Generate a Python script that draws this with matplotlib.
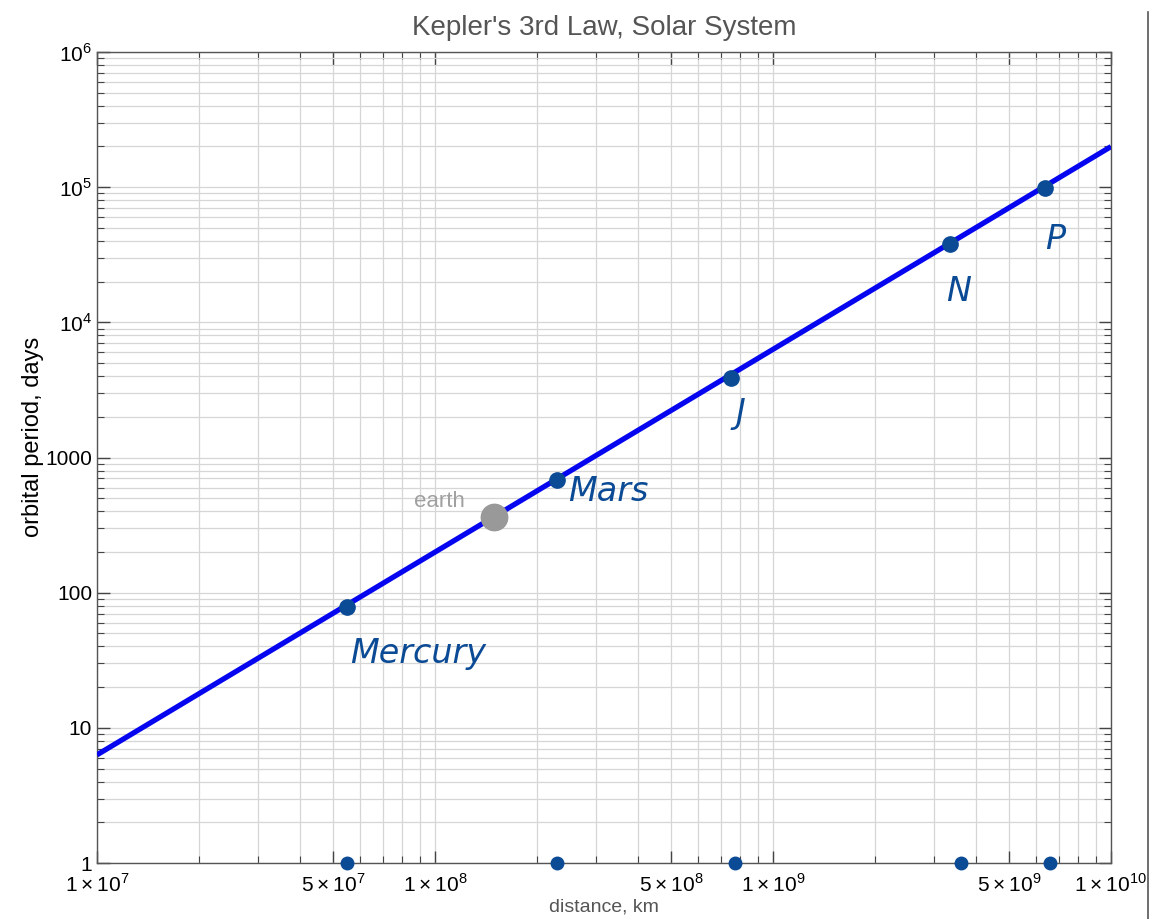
import numpy as np
import matplotlib.pyplot as plt
from matplotlib.lines import Line2D
from matplotlib.ticker import LogLocator, FixedLocator, FixedFormatter, NullFormatter

# Kepler fit line through earth (km, days)
earth_a = 1.496e8
earth_T = 365.25
fit_x = [1e7, 1e10]

# hand marked planets
planet_names = ["Mercury", "Mars", "J", "N", "P"]
planet_a = [5.5e7, 2.3e8, 7.5e8, 3.35e9, 6.4e9]
planet_T = [79, 681, 3870, 37900, 98400]
# marks along the bottom axis
bottom_a = [5.5e7, 2.3e8, 7.7e8, 3.6e9, 6.6e9]

xticks = [1e7, 5e7, 1e8, 5e8, 1e9, 5e9, 1e10]
xlabels = [r"$1\times10^{7}$", r"$5\times10^{7}$", r"$1\times10^{8}$", r"$5\times10^{8}$",
           r"$1\times10^{9}$", r"$5\times10^{9}$", r"$1\times10^{10}$"]
yticks = [1, 10, 100, 1000, 1e4, 1e5, 1e6]
ylabels = ["1", "10", "100", "1000", r"$10^{4}$", r"$10^{5}$", r"$10^{6}$"]

plt.rcParams["font.family"] = ["Liberation Sans", "DejaVu Sans"]
plt.rcParams["mathtext.fontset"] = "custom"
plt.rcParams["mathtext.rm"] = "Liberation Sans"

fig = plt.figure(figsize=(11.49, 9.19), dpi=100)
ax = fig.add_axes([0.0844, 0.0609, 0.8825, 0.8825])

fx = np.array(fit_x)
fy = earth_T * (fx / earth_a) ** 1.5
ax.plot(fx, fy, color="#0505f0", lw=3.8, solid_capstyle="butt", zorder=3)

ax.plot([earth_a], [earth_T], "o", color="#999999", ms=19, zorder=4)
ax.text(earth_a * 0.82, earth_T * 1.3, "earth", color="#a0a0a0", fontsize=16,
        ha="right", va="center")

hand = "#0b4a95"
ax.plot(planet_a, planet_T, "o", color=hand, ms=11, mfc=hand, mec=hand, zorder=5)
ax.plot(bottom_a, [1] * len(bottom_a), "o", color=hand, ms=9, clip_on=False, zorder=6)

offsets = {"Mercury": (1.02, 0.45), "Mars": (1.08, 0.82),
           "J": (1.03, 0.55), "N": (0.97, 0.45), "P": (1.0, 0.42)}
for name, a, T in zip(planet_names, planet_a, planet_T):
    mx, my = offsets[name]
    ax.text(a * mx, T * my, name, color=hand, fontsize=24, fontstyle="italic",
            ha="left", va="center", family="DejaVu Sans")

ax.set_xscale("log")
ax.set_yscale("log")
ax.set_xlim(1e7, 1e10)
ax.set_ylim(1, 1e6)

ax.xaxis.set_major_locator(FixedLocator(xticks))
ax.xaxis.set_major_formatter(FixedFormatter(xlabels))
ax.xaxis.set_minor_locator(LogLocator(base=10, subs=np.arange(2, 10), numticks=20))
ax.xaxis.set_minor_formatter(NullFormatter())
ax.yaxis.set_major_locator(FixedLocator(yticks))
ax.yaxis.set_major_formatter(FixedFormatter(ylabels))
ax.yaxis.set_minor_locator(LogLocator(base=10, subs=np.arange(2, 10), numticks=20))
ax.yaxis.set_minor_formatter(NullFormatter())

ax.grid(True, which="both", color="#d6d6d6", lw=0.9, zorder=0)
ax.set_axisbelow(True)
ax.tick_params(which="both", direction="in", top=True, right=True, colors="#444444",
               labelcolor="black", labelsize=15)
ax.tick_params(axis="x", which="both", pad=7)
ax.tick_params(which="major", length=9, width=1)
ax.tick_params(which="minor", length=5, width=0.8)
for s in ax.spines.values():
    s.set_color("#555555")
    s.set_linewidth(1)

ax.set_title("Kepler's 3rd Law, Solar System", color="#555555", fontsize=20, pad=12)
ax.set_xlabel("distance, km", color="#555555", fontsize=14, labelpad=2)
ax.set_ylabel("orbital period, days", color="black", fontsize=17)
ax.yaxis.set_label_coords(-0.052, 0.525)

fig.add_artist(Line2D([1148 / 1149, 1148 / 1149], [0, 1 - 12 / 919], color="#555555", lw=1.2))

fig.savefig("out.png", dpi=100, facecolor="white")
